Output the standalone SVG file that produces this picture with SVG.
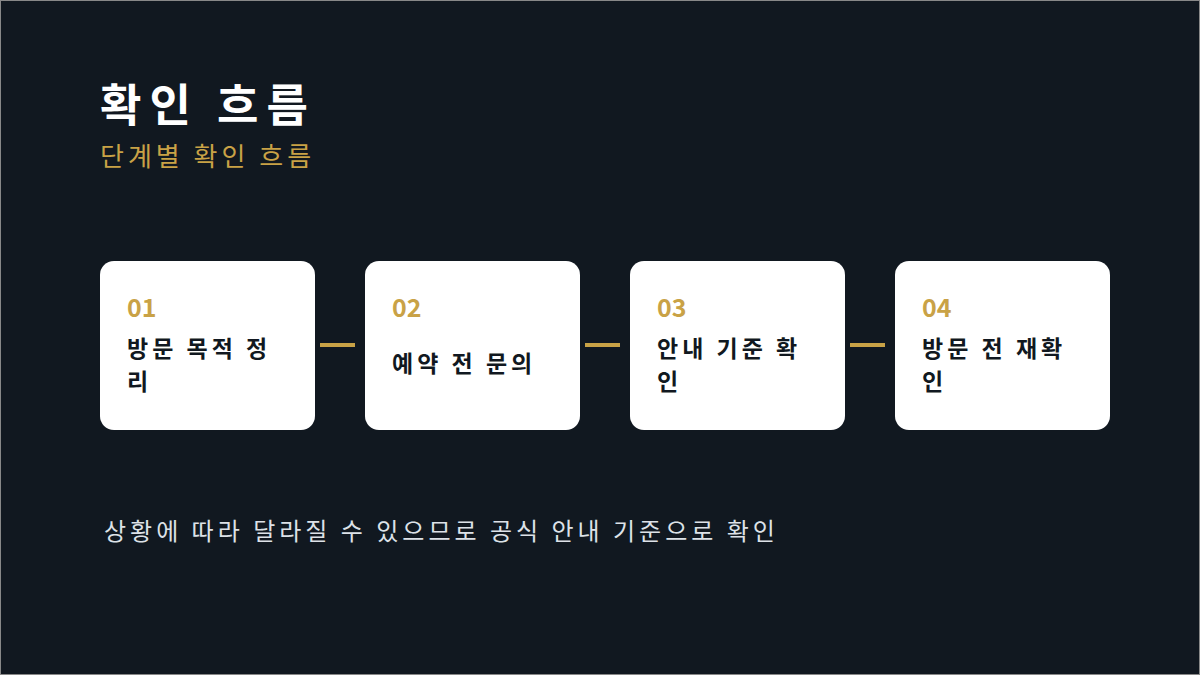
<svg xmlns="http://www.w3.org/2000/svg" width="1200" height="675" viewBox="0 0 1200 675">
<style>
text{font-family:"Noto Sans CJK KR","Noto Sans",sans-serif}
.card{fill:#ffffff}
.num{fill:#c9a246;font-size:25px;font-weight:600}
.lbl{fill:#111820;font-size:23px;font-weight:700;letter-spacing:4px}
.con{stroke:#c9a246;stroke-width:4}
</style>
<rect x="0.5" y="0.5" width="1199" height="674" fill="#111820" stroke="#888" stroke-width="1"/>
<text x="100" y="122" font-size="45" font-weight="700" fill="#ffffff" letter-spacing="8">확인 흐름</text>
<text x="100" y="166" font-size="26" fill="#c9a246" letter-spacing="4">단계별 확인 흐름</text>
<g id="connectors">
<line class="con" x1="320" y1="345" x2="355" y2="345"/>
<line class="con" x1="585" y1="345" x2="620" y2="345"/>
<line class="con" x1="850" y1="345" x2="885" y2="345"/>
</g>
<g id="n1"><rect class="card" x="100" y="261" width="215" height="169" rx="14"/>
<text class="num" x="127" y="317">01</text>
<text class="lbl" x="127" y="357">방문 목적 정</text><text class="lbl" x="127" y="390">리</text></g>
<g id="n2"><rect class="card" x="365" y="261" width="215" height="169" rx="14"/>
<text class="num" x="392" y="317">02</text>
<text class="lbl" x="392" y="372">예약 전 문의</text></g>
<g id="n3"><rect class="card" x="630" y="261" width="215" height="169" rx="14"/>
<text class="num" x="657" y="317">03</text>
<text class="lbl" x="657" y="357">안내 기준 확</text><text class="lbl" x="657" y="390">인</text></g>
<g id="n4"><rect class="card" x="895" y="261" width="215" height="169" rx="14"/>
<text class="num" x="922" y="317">04</text>
<text class="lbl" x="922" y="357">방문 전 재확</text><text class="lbl" x="922" y="390">인</text></g>
<text x="104" y="540" font-size="24" fill="#dde2e8" letter-spacing="4">상황에 따라 달라질 수 있으므로 공식 안내 기준으로 확인</text>
</svg>
